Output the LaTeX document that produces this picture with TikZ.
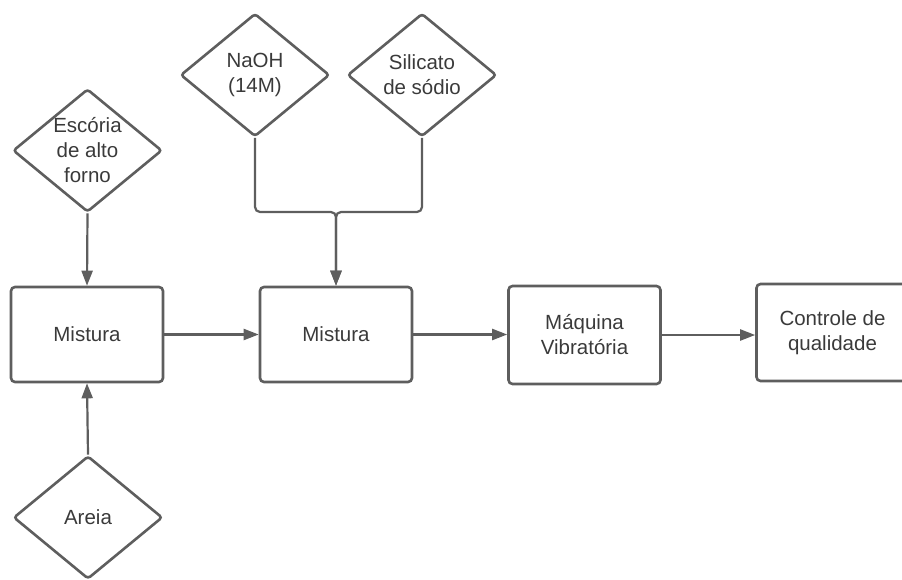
\documentclass[tikz,border=0pt]{standalone}
\usepackage{fontspec}
\setmainfont{Liberation Sans}
\usetikzlibrary{shapes.geometric,arrows.meta}
\definecolor{linegray}{HTML}{5E5E5E}
\definecolor{textgray}{HTML}{3A3A3A}
\begin{document}
\begin{tikzpicture}[x=1pt,y=-1pt,
  every node/.style={font=\fontsize{20.5}{25}\selectfont, text=textgray},
  procbox/.style={draw=linegray, line width=2.6pt, rounded corners=4pt,
    minimum width=152pt, minimum height=95pt, inner sep=0pt, align=center},
  inputdia/.style={draw=linegray, line width=2.6pt, diamond, rounded corners=3pt,
    minimum width=149pt, minimum height=123pt, inner sep=0pt},
  flow/.style={draw=linegray, line width=2.2pt,
    -{Triangle[length=15pt,width=11pt]}},
  feed/.style={flow, rounded corners=5pt}]
\useasboundingbox (0,0) rectangle (902,579);
\clip (0,0) rectangle (902,579);

% raw material inputs
\node[inputdia, label={[align=center]center:NaOH\\(14M)}] (naoh) at (255,75) {};
\node[inputdia, label={[align=center]center:Silicato\\de sódio}] (silicato) at (422,75) {};
\node[inputdia, label={[align=center]center:Escória\\de alto\\forno}] (escoria) at (87.5,150.5) {};
\node[inputdia, label={[align=center]center:Areia}] (areia) at (88,517.5) {};

% process steps
\node[procbox] (mist1) at (87,334.5) {Mistura};
\node[procbox] (mist2) at (336,334.5) {Mistura};
\node[procbox, minimum height=98pt] (maquina) at (584.5,335) {Máquina\\Vibratória};
\node[procbox, minimum height=97pt] (controle) at (832.5,332.5) {Controle de\\qualidade};

% junction where both solutions join
\coordinate (join) at (336,212);

% connectors
\draw[flow] (escoria.south) -- (mist1.north);
\draw[flow] (areia.north) -- (mist1.south);
\draw[feed] (naoh.south) |- (join) -- (mist2.north);
\draw[feed] (silicato.south) |- (join) -- (mist2.north);
\draw[flow] (mist1.east) -- (mist2.west);
\draw[flow] (mist2.east) -- (mist2.east -| maquina.west);
\draw[flow] (maquina.east) -- (maquina.east -| controle.west);
\end{tikzpicture}
\end{document}
